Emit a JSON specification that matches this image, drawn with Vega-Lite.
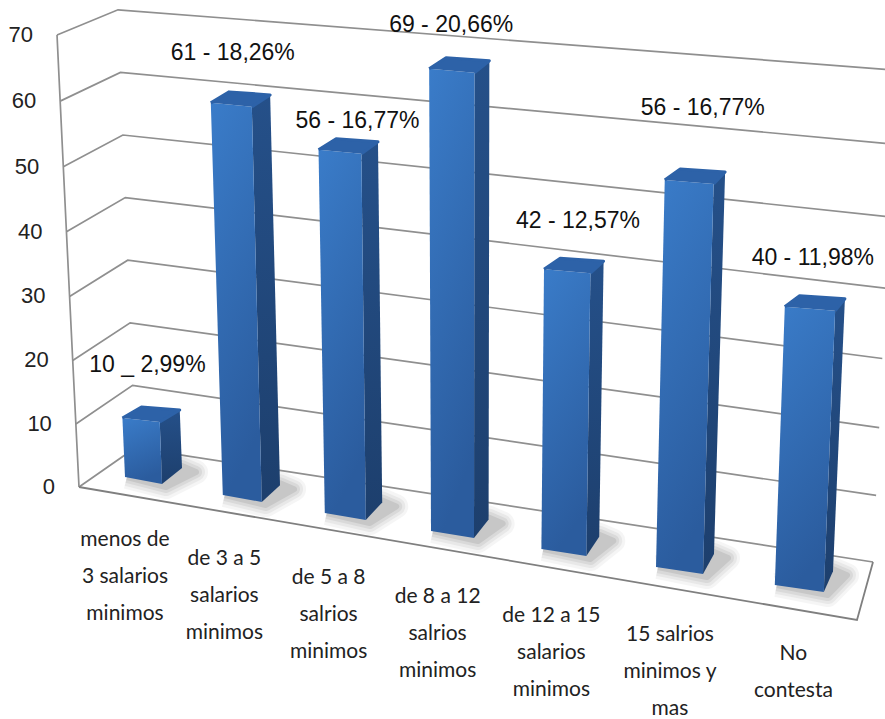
{
  "$schema": "https://vega.github.io/schema/vega-lite/v6.json",
  "width": 885,
  "height": 719,
  "autosize": {"type": "fit", "contains": "padding"},
  "padding": 0,
  "background": "white",
  "view": {"stroke": null},
  "datasets": {
    "ticks": [{"tick": 0}, {"tick": 10}, {"tick": 20}, {"tick": 30}, {"tick": 40}, {"tick": 50}, {"tick": 60}, {"tick": 70}]
  },
  "data": {
    "values": [
      {"category": "menos de\n3 salarios\nminimos", "value": 10, "label": "10 _ 2,99%"},
      {"category": "de 3 a 5\nsalarios\nminimos", "value": 61, "label": "61 - 18,26%"},
      {"category": "de 5 a 8\nsalrios\nminimos", "value": 56, "label": "56 - 16,77%"},
      {"category": "de 8 a 12\nsalrios\nminimos", "value": 69, "label": "69 - 20,66%"},
      {"category": "de 12 a 15\nsalarios\nminimos", "value": 42, "label": "42 - 12,57%"},
      {"category": "15 salrios\nminimos y\nmas", "value": 56, "label": "56 - 16,77%"},
      {"category": "No\ncontesta", "value": 40, "label": "40 - 11,98%"}
    ]
  },
  "transform": [
    {"window": [{"op": "row_number", "as": "n"}]},
    {"calculate": "datum.n - 1", "as": "i"},
    {"calculate": "(5.8 * datum.value + 0.0103 * datum.value * datum.value) * [1, 1, 1.017, 1.029, 1.069, 1.084, 1.12][datum.i]", "as": "h"},
    {"calculate": "125 + 95.7 * datum.i + 2.1 * datum.i * datum.i", "as": "blx"},
    {"calculate": "477 + 18 * datum.i", "as": "bly"},
    {"calculate": "37 + 2 * datum.i", "as": "bw"},
    {"calculate": "datum.blx + datum.bw", "as": "brx"},
    {"calculate": "datum.bly + 7", "as": "bry"},
    {"calculate": "datum.blx + 0.0133 * (datum.i - 3.3) * datum.h", "as": "tlx"},
    {"calculate": "datum.bly - datum.h", "as": "tly"},
    {"calculate": "datum.tlx + datum.bw + datum.value / 30", "as": "trx"},
    {"calculate": "datum.tly + 4", "as": "try"},
    {"calculate": "datum.brx + 20 - 1.8 * datum.i", "as": "bsx"},
    {"calculate": "datum.bry - 16 - 0.8 * datum.i", "as": "bsy"},
    {"calculate": "datum.trx + 20 - 1.7 * datum.i", "as": "tsx"},
    {"calculate": "datum.try - 12", "as": "tsy"},
    {"calculate": "datum.tlx + 19 - 0.7 * datum.i", "as": "bkx"},
    {"calculate": "datum.tly - 11", "as": "bky"},
    {"calculate": "[0, 1, 2, 3]", "as": "corner"},
    {"calculate": "datum.tlx + [25, 22, 39, 22, 34, 38, 28][datum.i]", "as": "labelX"},
    {"calculate": "datum.bky - [42, 39, 18, 33, 37, 61, 38][datum.i]", "as": "labelY"},
    {"calculate": "125 + 97 * datum.i + 2.4 * datum.i * datum.i", "as": "catX"},
    {"calculate": "540 + 19 * datum.i", "as": "catY"}
  ],
  "encoding": {
    "x": {"field": "px", "type": "quantitative", "axis": null, "scale": {"domain": [0, 885], "nice": false, "zero": false}},
    "y": {"field": "py", "type": "quantitative", "axis": null, "scale": {"domain": [719, 0], "nice": false, "zero": false}}
  },
  "layer": [
    {
      "data": {"name": "ticks"},
      "transform": [
        {"calculate": "[0, 1, 2]", "as": "corner"},
        {"flatten": ["corner"]},
        {"calculate": "[79 - 0.314 * datum.tick, 135 - 0.243 * datum.tick, 873 + 0.31 * datum.tick][datum.corner]", "as": "px"},
        {"calculate": "[487 - 6.274 * datum.tick - 0.00262 * datum.tick * datum.tick, 448 - 6.26 * datum.tick, 562 - 6.6 * datum.tick - 0.0061 * datum.tick * datum.tick][datum.corner]", "as": "py"}
      ],
      "mark": {"type": "line", "color": "#8f8f8f", "strokeWidth": 1.7, "clip": true},
      "encoding": {"detail": {"field": "tick"}, "order": {"field": "corner"}}
    },
    {
      "data": {"name": "ticks"},
      "transform": [
        {"calculate": "79 - 0.314 * datum.tick", "as": "px"},
        {"calculate": "487 - 6.274 * datum.tick - 0.00262 * datum.tick * datum.tick", "as": "py"}
      ],
      "mark": {"type": "line", "color": "#8f8f8f", "strokeWidth": 1.7},
      "encoding": {"order": {"field": "tick"}}
    },
    {
      "data": {"name": "ticks"},
      "transform": [
        {"filter": "datum.tick === 0"},
        {"calculate": "[0, 1, 2]", "as": "corner"},
        {"flatten": ["corner"]},
        {"calculate": "[79, 857, 873][datum.corner]", "as": "px"},
        {"calculate": "[487, 620, 562][datum.corner]", "as": "py"}
      ],
      "mark": {"type": "line", "color": "#7f7f7f", "strokeWidth": 1.8},
      "encoding": {"order": {"field": "corner"}}
    },
    {
      "data": {"name": "ticks"},
      "transform": [
        {"calculate": "79 - 0.314 * datum.tick - 24", "as": "px"},
        {"calculate": "487 - 6.274 * datum.tick - 0.00262 * datum.tick * datum.tick", "as": "py"}
      ],
      "mark": {"type": "text", "align": "right", "baseline": "middle", "font": "Liberation Sans", "fontSize": 22, "color": "#222222"},
      "encoding": {"text": {"field": "tick", "type": "quantitative"}}
    },
    {
      "transform": [
        {"calculate": "[0, 1, 2, 3, 4]", "as": "corner"},
        {"flatten": ["corner"]},
        {"calculate": "[datum.blx + 2, datum.brx + 4, datum.bsx + 14, datum.bsx, datum.blx + 2][datum.corner]", "as": "px"},
        {"calculate": "[datum.bly, datum.bry + 3, datum.bsy + 4, datum.bsy - 2, datum.bly][datum.corner]", "as": "py"}
      ],
      "mark": {"type": "line", "fill": "#4a4a4a", "stroke": "#4a4a4a", "strokeWidth": 24, "strokeJoin": "round", "opacity": 0.05},
      "encoding": {"detail": {"field": "category"}, "order": {"field": "corner"}}
    },
    {
      "transform": [
        {"calculate": "[0, 1, 2, 3, 4]", "as": "corner"},
        {"flatten": ["corner"]},
        {"calculate": "[datum.blx + 2, datum.brx + 4, datum.bsx + 14, datum.bsx, datum.blx + 2][datum.corner]", "as": "px"},
        {"calculate": "[datum.bly, datum.bry + 3, datum.bsy + 4, datum.bsy - 2, datum.bly][datum.corner]", "as": "py"}
      ],
      "mark": {"type": "line", "fill": "#4a4a4a", "stroke": "#4a4a4a", "strokeWidth": 18, "strokeJoin": "round", "opacity": 0.07},
      "encoding": {"detail": {"field": "category"}, "order": {"field": "corner"}}
    },
    {
      "transform": [
        {"calculate": "[0, 1, 2, 3, 4]", "as": "corner"},
        {"flatten": ["corner"]},
        {"calculate": "[datum.blx + 2, datum.brx + 4, datum.bsx + 14, datum.bsx, datum.blx + 2][datum.corner]", "as": "px"},
        {"calculate": "[datum.bly, datum.bry + 3, datum.bsy + 4, datum.bsy - 2, datum.bly][datum.corner]", "as": "py"}
      ],
      "mark": {"type": "line", "fill": "#4a4a4a", "stroke": "#4a4a4a", "strokeWidth": 12, "strokeJoin": "round", "opacity": 0.09},
      "encoding": {"detail": {"field": "category"}, "order": {"field": "corner"}}
    },
    {
      "transform": [
        {"calculate": "[0, 1, 2, 3, 4]", "as": "corner"},
        {"flatten": ["corner"]},
        {"calculate": "[datum.blx + 2, datum.brx + 4, datum.bsx + 14, datum.bsx, datum.blx + 2][datum.corner]", "as": "px"},
        {"calculate": "[datum.bly, datum.bry + 3, datum.bsy + 4, datum.bsy - 2, datum.bly][datum.corner]", "as": "py"}
      ],
      "mark": {"type": "line", "fill": "#4a4a4a", "stroke": "#4a4a4a", "strokeWidth": 6, "strokeJoin": "round", "opacity": 0.12},
      "encoding": {"detail": {"field": "category"}, "order": {"field": "corner"}}
    },
    {
      "transform": [
        {"flatten": ["corner"]},
        {"calculate": "[datum.trx, datum.tsx, datum.bsx, datum.brx][datum.corner]", "as": "px"},
        {"calculate": "[datum.try, datum.tsy, datum.bsy, datum.bry][datum.corner]", "as": "py"}
      ],
      "mark": {
        "type": "line",
        "strokeWidth": 0,
        "fill": {"gradient": "linear", "x1": 0, "y1": 0, "x2": 0, "y2": 1, "stops": [{"offset": 0, "color": "#255089"}, {"offset": 1, "color": "#1d3f6d"}]}
      },
      "encoding": {"detail": {"field": "category"}, "order": {"field": "corner"}}
    },
    {
      "transform": [
        {"flatten": ["corner"]},
        {"calculate": "[datum.tlx, datum.trx, datum.brx, datum.blx][datum.corner]", "as": "px"},
        {"calculate": "[datum.tly, datum.try, datum.bry, datum.bly][datum.corner]", "as": "py"}
      ],
      "mark": {
        "type": "line",
        "strokeWidth": 0,
        "fill": {"gradient": "linear", "x1": 0, "y1": 0, "x2": 0.25, "y2": 1, "stops": [{"offset": 0, "color": "#3a7cc9"}, {"offset": 1, "color": "#2b5c9e"}]}
      },
      "encoding": {"detail": {"field": "category"}, "order": {"field": "corner"}}
    },
    {
      "transform": [
        {"flatten": ["corner"]},
        {"calculate": "[datum.tlx, datum.bkx, datum.tsx, datum.trx][datum.corner]", "as": "px"},
        {"calculate": "[datum.tly, datum.bky, datum.tsy, datum.try][datum.corner]", "as": "py"}
      ],
      "mark": {"type": "line", "fill": "#2d62a8", "stroke": "#2d62a8", "strokeWidth": 3, "strokeJoin": "round"},
      "encoding": {"detail": {"field": "category"}, "order": {"field": "corner"}}
    },
    {
      "transform": [
        {"calculate": "datum.labelX", "as": "px"},
        {"calculate": "datum.labelY", "as": "py"}
      ],
      "mark": {"type": "text", "align": "center", "baseline": "middle", "font": "Liberation Sans", "fontSize": 23, "color": "#111111"},
      "encoding": {"text": {"field": "label", "type": "nominal"}}
    },
    {
      "transform": [
        {"calculate": "datum.catX", "as": "px"},
        {"calculate": "datum.catY", "as": "py"}
      ],
      "mark": {"type": "text", "align": "center", "baseline": "middle", "lineBreak": "\n", "lineHeight": 37, "font": "Lato", "fontSize": 21, "color": "#222222"},
      "encoding": {"text": {"field": "category", "type": "nominal"}}
    }
  ]
}
